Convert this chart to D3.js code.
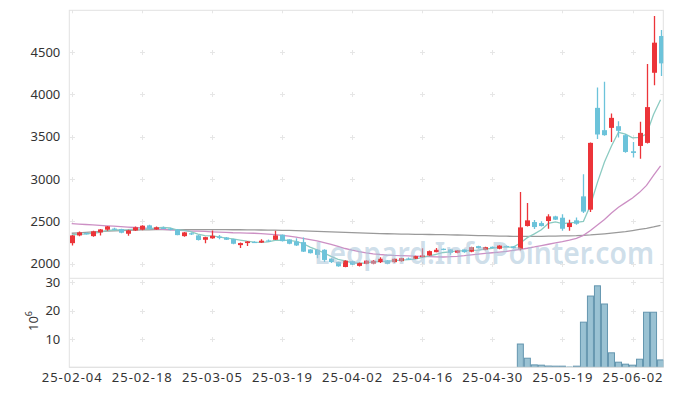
<!DOCTYPE html>
<html>
<head>
<meta charset="utf-8" />
<title>Candles</title>
<script src="https://cdn.jsdelivr.net/npm/d3@7/dist/d3.min.js"></script>
<style>
    body { margin: 0; background: #fff; }
    text { font-family: "Noto Sans", sans-serif; }
</style>
</head>
<body>
<script>
    // trading days (yy-mm-dd)
    var dates = ["25-02-04","25-02-05","25-02-06","25-02-07","25-02-10","25-02-11","25-02-12","25-02-13","25-02-14","25-02-17",
        "25-02-18","25-02-19","25-02-20","25-02-21","25-02-24","25-02-25","25-02-26","25-02-27","25-02-28","25-03-04",
        "25-03-05","25-03-06","25-03-07","25-03-10","25-03-11","25-03-12","25-03-13","25-03-14","25-03-17","25-03-18",
        "25-03-19","25-03-20","25-03-21","25-03-24","25-03-25","25-03-26","25-03-27","25-03-28","25-03-31","25-04-01",
        "25-04-02","25-04-03","25-04-04","25-04-07","25-04-08","25-04-09","25-04-10","25-04-11","25-04-14","25-04-15",
        "25-04-16","25-04-17","25-04-18","25-04-21","25-04-22","25-04-23","25-04-24","25-04-25","25-04-28","25-04-29",
        "25-04-30","25-05-02","25-05-07","25-05-08","25-05-09","25-05-12","25-05-13","25-05-14","25-05-15","25-05-16",
        "25-05-19","25-05-20","25-05-21","25-05-22","25-05-23","25-05-26","25-05-27","25-05-28","25-05-29","25-05-30",
        "25-06-02","25-06-04","25-06-05","25-06-09","25-06-10"]

    var open = [2243,2334,2362,2326,2370,2402,2415,2409,2354,2393,
        2402,2453,2405,2425,2415,2402,2326,2360,2334,2283,
        2300,2320,2310,2291,2220,2244,2258,2250,2275,2283,
        2343,2287,2263,2255,2169,2165,2165,2060,2020,1962,
        2030,1975,2000,2002,2019,2039,2019,2031,2062,2059,
        2079,2098,2137,2177,2169,2130,2169,2142,2208,2165,
        2200,2177,2210,2204,2177,2445,2492,2480,2504,2559,
        2543,2433,2512,2795,2638,3839,3576,3603,3623,3517,
        3327,3390,3426,4253,4687]
    var close = [2334,2370,2355,2382,2405,2441,2408,2366,2393,2430,
        2449,2413,2430,2420,2405,2338,2370,2355,2280,2314,
        2330,2305,2283,2236,2244,2263,2252,2272,2265,2334,
        2267,2236,2216,2143,2125,2105,2045,2020,1970,2036,
        1990,2010,2037,2035,2059,2000,2059,2066,2057,2090,
        2098,2149,2165,2165,2130,2157,2137,2196,2184,2196,
        2190,2216,2200,2184,2429,2512,2433,2445,2559,2520,
        2413,2480,2472,2615,3426,3525,3517,3721,3568,3319,
        3307,3544,3848,4608,4364]
    var high = [2340,2380,2370,2390,2410,2445,2425,2412,2400,2440,
        2455,2460,2440,2440,2425,2410,2375,2370,2340,2320,
        2393,2340,2315,2295,2250,2268,2265,2290,2285,2388,
        2345,2290,2300,2310,2172,2170,2170,2065,2025,2040,
        2035,2015,2042,2045,2078,2042,2062,2070,2075,2095,
        2184,2155,2186,2180,2172,2162,2172,2200,2212,2200,
        2205,2220,2215,2208,2846,2716,2515,2500,2585,2565,
        2585,2520,2545,3056,3430,4080,4146,3772,3680,3530,
        3437,3674,4356,4924,4758]
    var low = [2216,2325,2345,2320,2334,2390,2395,2360,2330,2385,
        2395,2405,2400,2410,2395,2335,2320,2340,2275,2243,
        2295,2290,2280,2230,2185,2210,2245,2245,2260,2280,
        2262,2230,2210,2140,2120,2066,2020,2010,1965,1958,
        1985,1968,1995,1995,2010,1995,2012,2025,2050,2055,
        2075,2095,2135,2160,2106,2125,2130,2135,2180,2160,
        2185,2170,2195,2180,2157,2440,2410,2440,2413,2515,
        2390,2390,2460,2600,2612,3472,3510,3437,3490,3310,
        3253,3240,3420,4107,4214]

    // moving averages
    var ma5 = [2340,2348,2352,2360,2369,2391,2398,2400,2403,2408,
        2409,2410,2423,2428,2423,2401,2393,2378,2350,2331,
        2330,2317,2302,2294,2280,2266,2256,2253,2259,2277,
        2278,2275,2264,2239,2197,2165,2127,2088,2053,2035,
        2012,2006,2009,2022,2027,2028,2038,2044,2048,2054,
        2074,2092,2112,2133,2141,2153,2151,2157,2161,2174,
        2181,2196,2197,2197,2244,2308,2352,2401,2476,2494,
        2474,2483,2489,2500,2690,2960,3200,3390,3551,3530,
        3486,3492,3530,3760,3934]
    var ma20 = [2473,2468,2463,2458,2453,2448,2443,2438,2433,2428,
        2423,2418,2412,2406,2401,2396,2391,2386,2384,2381,
        2377,2373,2370,2366,2364,2362,2360,2356,2350,2343,
        2335,2325,2314,2300,2285,2270,2250,2230,2205,2180,
        2160,2143,2128,2117,2109,2103,2099,2097,2094,2091,
        2088,2085,2082,2080,2083,2088,2095,2105,2113,2122,
        2130,2138,2147,2158,2170,2183,2198,2215,2230,2246,
        2261,2278,2300,2335,2392,2458,2523,2598,2666,2721,
        2776,2842,2924,3044,3155]
    var ma60 = [2360,2365,2370,2375,2380,2384,2388,2391,2394,2397,
        2400,2401,2402,2402,2402,2402,2402,2402,2402,2402,
        2402,2402,2402,2401,2401,2400,2399,2398,2397,2396,
        2395,2393,2391,2389,2386,2383,2380,2377,2374,2371,
        2368,2365,2362,2359,2356,2354,2352,2350,2349,2347,
        2346,2345,2344,2343,2341,2339,2337,2335,2333,2331,
        2329,2327,2325,2324,2323,2323,2323,2324,2325,2326,
        2328,2330,2332,2336,2340,2346,2353,2361,2370,2380,
        2392,2405,2418,2434,2453]

    // volume, millions of shares
    var volume = [0.06,0.05,0.04,0.05,0.06,0.07,0.04,0.05,0.05,0.06,
        0.07,0.05,0.04,0.04,0.04,0.06,0.05,0.04,0.06,0.05,
        0.07,0.04,0.04,0.05,0.06,0.04,0.03,0.04,0.04,0.07,
        0.05,0.05,0.05,0.08,0.06,0.07,0.08,0.06,0.07,0.07,
        0.05,0.05,0.04,0.04,0.05,0.05,0.04,0.04,0.03,0.05,
        0.08,0.07,0.06,0.04,0.05,0.04,0.04,0.06,0.05,0.05,
        0.04,0.06,0.04,0.05,8.2,3.2,0.85,0.75,0.45,0.4,
        0.4,0.35,0.4,15.9,25.1,28.7,22.3,5.1,1.8,1.1,
        0.75,2.85,19.4,19.4,2.6]

    var priceTicks = [2000, 2500, 3000, 3500, 4000, 4500]
    var volTicks = [10, 20, 30]

    var config = {
        W: 673, H: 396,
        left: 69.3, right: 663.3,
        priceTop: 10.3, priceBottom: 278,
        volTop: 278.3, volBottom: 367.3,
        UP: "#ec3439", DOWN: "#6cc3da",
        GRID: "#e6e6e6", FRAME: "#e2e2e2", TEXT: "#333"
    }

    var svg = d3.select("body").append("svg")
        .attr("width", config.W).attr("height", config.H)

    var x = d3.scaleBand().domain(dates)
        .range([config.left - 1.1, config.left - 1.1 + dates.length * 7.01]).padding(0)
    var cx = d => x(d) + x.bandwidth() / 2
    var y = d3.scaleLinear().domain([1832, 4990]).range([config.priceBottom, config.priceTop])
    var yv = d3.scaleLinear().domain([0, 31.35]).range([config.volBottom, config.volTop])

    svg.append("defs").append("clipPath").attr("id", "plot")
        .append("rect").attr("x", config.left).attr("y", config.priceTop)
        .attr("width", config.right - config.left).attr("height", config.volBottom - config.priceTop)

    // grid crosses
    var tickDates = dates.filter((d, i) => i % 10 == 0)
    var grid = svg.append("g").attr("stroke", config.GRID).attr("stroke-width", 1)
    var crossYs = priceTicks.map(v => y(v)).concat(volTicks.map(v => yv(v)))
    tickDates.forEach(function (d) {
        var px = Math.round(cx(d)) + 0.5
        crossYs.forEach(function (py) {
            py = Math.round(py) + 0.5
            grid.append("line").attr("x1", px - 2.5).attr("x2", px + 2.5).attr("y1", py).attr("y2", py)
            grid.append("line").attr("x1", px).attr("x2", px).attr("y1", py - 2.5).attr("y2", py + 2.5)
        })
        grid.append("line").attr("x1", px).attr("x2", px).attr("y1", config.priceTop).attr("y2", config.priceTop + 3)
    })
    crossYs.forEach(function (py) {
        py = Math.round(py) + 0.5
        grid.append("line").attr("x1", config.right - 3).attr("x2", config.right).attr("y1", py).attr("y2", py)
    })

    // frame
    var frame = svg.append("g").attr("stroke", config.FRAME).attr("fill", "none")
    frame.append("rect").attr("x", config.left).attr("y", config.priceTop)
        .attr("width", config.right - config.left).attr("height", config.volBottom - config.priceTop)
    frame.append("line").attr("x1", config.left).attr("x2", config.right)
        .attr("y1", config.volTop).attr("y2", config.volTop)

    var plot = svg.append("g").attr("clip-path", "url(#plot)")

    // moving averages (drawn under candles)
    var maLine = arr => d3.line().x((d, i) => cx(dates[i])).y(d => y(d))(arr)
    plot.append("path").attr("d", maLine(ma60)).attr("fill", "none").attr("stroke", "#9a9a9a").attr("stroke-width", 1.3)
    plot.append("path").attr("d", maLine(ma20)).attr("fill", "none").attr("stroke", "#cc8fc4").attr("stroke-width", 1.3)
    plot.append("path").attr("d", maLine(ma5)).attr("fill", "none").attr("stroke", "#8ccbc2").attr("stroke-width", 1.3)

    // candles
    var candles = dates.map((d, i) => ({ date: d, o: open[i], c: close[i], h: high[i], l: low[i] }))
    var cg = plot.selectAll(".candle").data(candles).enter().append("g").attr("class", "candle")
    cg.append("line")
        .attr("x1", d => Math.round(cx(d.date)) + 0.5).attr("x2", d => Math.round(cx(d.date)) + 0.5)
        .attr("y1", d => y(d.h)).attr("y2", d => y(d.l))
        .attr("stroke", d => d.c >= d.o ? config.UP : config.DOWN).attr("stroke-width", 1.3)
    cg.append("rect")
        .attr("x", d => Math.round(cx(d.date)) - 2)
        .attr("width", 5)
        .attr("y", d => y(Math.max(d.o, d.c)))
        .attr("height", d => Math.max(1.2, Math.abs(y(d.o) - y(d.c))))
        .attr("fill", d => d.c >= d.o ? config.UP : config.DOWN)

    // volume bars
    plot.selectAll(".vol").data(volume).enter().append("rect").attr("class", "vol")
        .attr("x", (d, i) => x(dates[i]) + 0.5)
        .attr("width", x.bandwidth() - 1)
        .attr("y", d => yv(d))
        .attr("height", d => config.volBottom - yv(d))
        .attr("fill", "#95bfd1").attr("fill-opacity", 0.95)
        .attr("stroke", "#6496af").attr("stroke-width", 1)
        .attr("stroke-opacity", d => config.volBottom - yv(d) < 1 ? 0 : 1)

    svg.append("line").attr("x1", config.left).attr("x2", config.right)
        .attr("y1", config.volBottom).attr("y2", config.volBottom).attr("stroke", config.FRAME)

    // watermark
    svg.append("text").attr("x", 484).attr("y", 264)
        .attr("text-anchor", "middle").attr("font-size", 30).attr("font-weight", 600)
        .attr("textLength", 340).attr("lengthAdjust", "spacingAndGlyphs")
        .attr("fill", "#a6c3d8").attr("fill-opacity", 0.55)
        .text("Leopard.InfoPointer.com")

    // axes
    var ya = svg.append("g").attr("transform", "translate(" + (config.left - 6) + ",0)")
        .call(d3.axisLeft(y).tickValues(priceTicks).tickSize(0).tickFormat(d3.format("d")))
    var yva = svg.append("g").attr("transform", "translate(" + (config.left - 6) + ",0)")
        .call(d3.axisLeft(yv).tickValues(volTicks).tickSize(0))
    var xa = svg.append("g").attr("transform", "translate(0," + config.volBottom + ")")
        .call(d3.axisBottom(x).tickValues(tickDates).tickSize(0).tickPadding(5))
    ;[ya, yva, xa].forEach(function (g) {
        g.select(".domain").remove()
        g.selectAll("text").attr("font-size", 13).attr("fill", config.TEXT)
            .style("font-family", "'Noto Sans', sans-serif")
    })
    xa.selectAll("text").attr("textLength", 60).attr("lengthAdjust", "spacing")

    // volume unit label
    var unit = svg.append("text").attr("transform", "translate(38,331) rotate(-90)")
        .attr("font-size", 13).attr("fill", config.TEXT)
    unit.append("tspan").text("10")
    unit.append("tspan").attr("dy", -6).attr("font-size", 9).text("6")
</script>
</body>
</html>
